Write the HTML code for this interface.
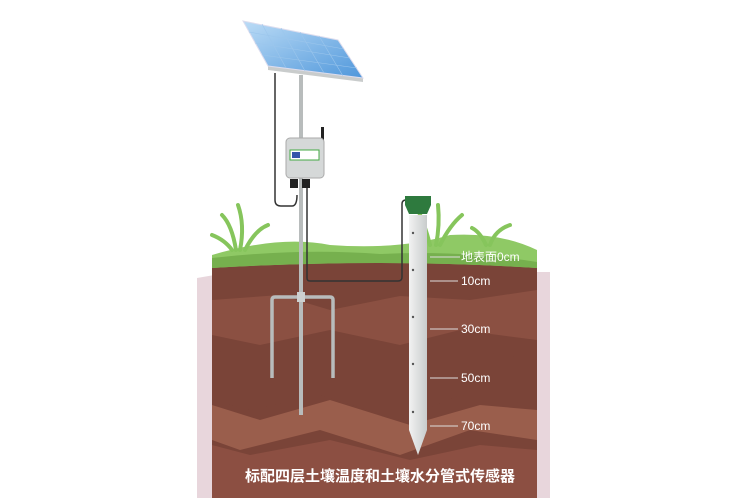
<!DOCTYPE html>
<html><head><meta charset="utf-8"><style>
body{margin:0;background:#fff}
svg{display:block}
text{font-family:"Liberation Sans","Noto Sans CJK SC",sans-serif}
</style></head><body>
<svg width="750" height="500" viewBox="0 0 750 500">
<defs>
<linearGradient id="sp" x1="0" y1="0" x2="1" y2="1"><stop offset="0" stop-color="#bcdcf6"/><stop offset="1" stop-color="#4f97db"/></linearGradient>
<linearGradient id="tb" x1="0" x2="1"><stop offset="0" stop-color="#f2f2f2"/><stop offset="1" stop-color="#c8cccc"/></linearGradient>
</defs>
<path d="M197 278 L232 272 L550 272 L550 498 L197 498Z" fill="#e8d6dc"/>
<path d="M212 260 Q380 240 537 262 L537 498 L212 498Z" fill="#7a4438"/>
<path d="M212 300 L280 295 L330 310 L400 296 L470 300 L537 290 L537 340 L460 330 L400 345 L330 330 L260 345 L212 335Z" fill="#8b5042"/>
<path d="M212 350 L270 360 L330 345 L410 365 L470 350 L537 360 L537 405 L460 395 L400 420 L320 395 L250 410 L212 400Z" fill="#7a4438"/>
<path d="M212 405 L260 420 L330 400 L410 425 L480 405 L537 410 L537 440 L470 430 L400 455 L320 430 L240 450 L212 440Z" fill="#9a5e4c"/>
<path d="M212 445 L250 455 L330 440 L410 460 L480 445 L537 450 L537 498 L212 498Z" fill="#8c4f42"/>
<path d="M212 255 Q280 235 330 245 Q400 250 450 235 Q500 232 537 250 L537 268 Q380 258 212 268Z" fill="#8fc965"/>
<path d="M212 258 Q300 248 380 254 Q460 250 537 262 L537 268 Q380 258 212 268Z" fill="#76b04e"/>
<g stroke="#86c55c" stroke-width="4" fill="none" stroke-linecap="round">
<path d="M236 250 Q232 225 222 215"/><path d="M240 250 Q245 225 238 205"/><path d="M245 250 Q255 230 268 225"/><path d="M232 250 Q225 240 212 235"/>
<path d="M430 245 Q425 225 418 210"/><path d="M436 245 Q440 225 438 205"/><path d="M440 245 Q450 225 462 215"/>
<path d="M490 245 Q495 230 510 225"/><path d="M486 245 Q480 232 472 228"/>
</g>
<path d="M275 73 L275 200 Q275 206 281 206 L292 206 Q297 206 297 195" stroke="#333" stroke-width="1.5" fill="none"/>
<path d="M307 185 L307 278 Q307 281 310 281 L398 281 Q402 281 402 277 L402 204 Q402 200 406 200" stroke="#333" stroke-width="1.5" fill="none"/>
<rect x="299" y="75" width="4" height="340" fill="#b8bcbc"/>
<path d="M272 378 L272 300 Q272 297 275 297 L330 297 Q333 297 333 300 L333 378" stroke="#b8bcbc" stroke-width="3.5" fill="none"/>
<rect x="297" y="292" width="8" height="10" fill="#cdd0d0"/>
<path d="M268 66 L363 78 L363 82 L268 70Z" fill="#c9cccc"/>
<path d="M243 21 L338 40 L363 78 L268 66Z" fill="url(#sp)" stroke="#dde" stroke-width="1"/>
<g stroke="#9cc6ec" stroke-width="0.6" fill="none">
<path d="M249 32 L344 49"/><path d="M255 43 L350 58"/><path d="M262 55 L357 68"/>
<path d="M262 24 L286 68"/><path d="M281 28 L305 71"/><path d="M300 32 L324 73"/><path d="M319 36 L343 76"/>
</g>
<rect x="321" y="127" width="3" height="20" fill="#222"/>
<rect x="286" y="138" width="38" height="40" rx="4" fill="#d5d8d8" stroke="#aaa"/>
<rect x="290" y="150" width="29" height="10" fill="#fff" stroke="#4a4"/>
<rect x="292" y="152" width="8" height="6" fill="#35a"/>
<rect x="290" y="179" width="8" height="9" fill="#222"/><rect x="302" y="179" width="8" height="9" fill="#222"/>
<path d="M409 215 L427 215 L427 430 L418 455 L409 430Z" fill="url(#tb)"/>
<path d="M405 196 L431 196 L431 205 L427 214 L409 214 L405 205Z" fill="#2e7a3e"/>
<g fill="#555"><circle cx="413" cy="233" r="1.2"/><circle cx="413" cy="270" r="1.2"/><circle cx="413" cy="317" r="1.2"/><circle cx="413" cy="364" r="1.2"/><circle cx="413" cy="412" r="1.2"/></g>
<g stroke="#ddd" stroke-width="1"><line x1="430" y1="257" x2="460" y2="257"/><line x1="430" y1="281" x2="458" y2="281"/><line x1="430" y1="329" x2="458" y2="329"/><line x1="430" y1="378" x2="458" y2="378"/><line x1="430" y1="426" x2="458" y2="426"/></g>
<g fill="#fff" font-size="12"><text x="461" y="261">地表面0cm</text><text x="461" y="285">10cm</text><text x="461" y="333">30cm</text><text x="461" y="382">50cm</text><text x="461" y="430">70cm</text></g>
<text x="380" y="481" fill="#fff" font-size="15" font-weight="bold" text-anchor="middle">标配四层土壤温度和土壤水分管式传感器</text>
</svg>
</body></html>
